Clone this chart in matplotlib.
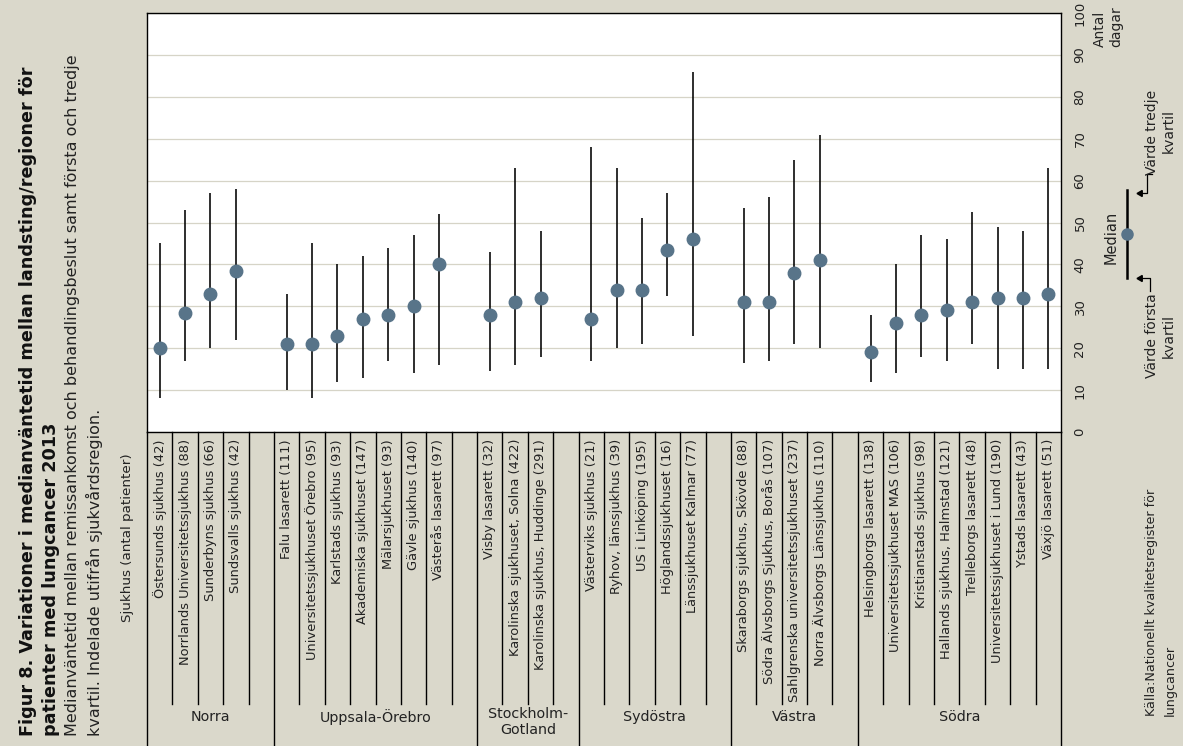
import matplotlib
matplotlib.use("Agg")
import matplotlib.pyplot as plt
import matplotlib.transforms as mtransforms
from matplotlib.lines import Line2D

plt.rcParams['font.family'] = ['DejaVu Sans']

# ---------------- data ----------------
regions = ["Norra", "Uppsala-Örebro", "Stockholm-\nGotland", "Sydöstra", "Västra", "Södra"]

norra = ["Östersunds sjukhus (42)", "Norrlands Universitetssjukhus (88)",
         "Sunderbyns sjukhus (66)", "Sundsvalls sjukhus (42)"]
norra_med = [20, 28.5, 33, 38.5]
norra_q1 = [8, 17, 20, 22]
norra_q3 = [45, 53, 57, 58]

uppsala = ["Falu lasarett (111)", "Universitetssjukhuset Örebro (95)", "Karlstads sjukhus (93)",
           "Akademiska sjukhuset (147)", "Mälarsjukhuset (93)", "Gävle sjukhus (140)",
           "Västerås lasarett (97)"]
uppsala_med = [21, 21, 23, 27, 28, 30, 40]
uppsala_q1 = [10, 8, 12, 13, 17, 14, 16]
uppsala_q3 = [33, 45, 40, 42, 44, 47, 52]

sthlm = ["Visby lasarett (32)", "Karolinska sjukhuset, Solna (422)",
         "Karolinska sjukhus, Huddinge (291)"]
sthlm_med = [28, 31, 32]
sthlm_q1 = [14.5, 16, 18]
sthlm_q3 = [43, 63, 48]

sydost = ["Västerviks sjukhus (21)", "Ryhov, länssjukhus (39)", "US i Linköping (195)",
          "Höglandssjukhuset (16)", "Länssjukhuset Kalmar (77)"]
sydost_med = [27, 34, 34, 43.5, 46]
sydost_q1 = [17, 20, 21, 32.5, 23]
sydost_q3 = [68, 63, 51, 57, 86]

vastra = ["Skaraborgs sjukhus, Skövde (88)", "Södra Älvsborgs Sjukhus, Borås (107)",
          "Sahlgrenska universitetssjukhuset (237)", "Norra Älvsborgs Länssjukhus (110)"]
vastra_med = [31, 31, 38, 41]
vastra_q1 = [16.5, 17, 21, 20]
vastra_q3 = [53.5, 56, 65, 71]

sodra = ["Helsingborgs lasarett (138)", "Universitetssjukhuset MAS (106)",
         "Kristianstads sjukhus (98)", "Hallands sjukhus, Halmstad (121)",
         "Trelleborgs lasarett (48)", "Universitetssjukhuset i Lund (190)",
         "Ystads lasarett (43)", "Växjö lasarett (51)"]
sodra_med = [19, 26, 28, 29, 31, 32, 32, 33]
sodra_q1 = [12, 14, 18, 17, 21, 15, 15, 15]
sodra_q3 = [28, 40, 47, 46, 52.5, 49, 48, 63]

groups = [
    (norra, norra_med, norra_q1, norra_q3),
    (uppsala, uppsala_med, uppsala_q1, uppsala_q3),
    (sthlm, sthlm_med, sthlm_q1, sthlm_q3),
    (sydost, sydost_med, sydost_q1, sydost_q3),
    (vastra, vastra_med, vastra_q1, vastra_q3),
    (sodra, sodra_med, sodra_q1, sodra_q3),
]
yticks = [0, 10, 20, 30, 40, 50, 60, 70, 80, 90, 100]

# ---------------- style ----------------
W, H = 1183, 746
BG = "#DAD8CB"
DOT = "#587489"
GRID = "#D6D4C7"
TXT = "#222222"

fig = plt.figure(figsize=(W / 100, H / 100), dpi=100, facecolor=BG)

def fx(p):
    return p / W

def fy(p):
    return 1 - p / H

L, R, T, B = 147, 1061, 13, 432
ax = fig.add_axes([fx(L), fy(B), fx(R - L), (B - T) / H])
ax.set_facecolor("white")

# layout of slots
xs, labels, meds, q1s, q3s = [], [], [], [], []
region_bounds = []
slot = 0
for gi, (names, med, q1, q3) in enumerate(groups):
    start = slot
    for n, m, a, b in zip(names, med, q1, q3):
        xs.append(slot)
        labels.append(n)
        meds.append(m)
        q1s.append(a)
        q3s.append(b)
        slot += 1
    if gi < len(groups) - 1:
        slot += 1  # gap slot
    region_bounds.append((start - 0.5, slot - 0.5))
nslots = slot

ax.vlines(xs, q1s, q3s, color="black", lw=1.15, zorder=3)
ax.plot(xs, meds, "o", color=DOT, ms=9, zorder=4, mec=DOT)

ax.set_xlim(-0.5, nslots - 0.5)
ax.set_ylim(0, 100)
ax.set_xticks([])
ax.set_yticks(yticks)
ax.yaxis.tick_right()
ax.tick_params(axis="y", length=0, pad=9, labelsize=9.5, labelcolor=TXT)
for t in ax.get_yticklabels():
    t.set_rotation(90)
    t.set_va("center")
ax.yaxis.grid(True, color=GRID, lw=0.9)
ax.set_axisbelow(True)
for s in ax.spines.values():
    s.set_color("black")
    s.set_linewidth(1.0)

# ---------------- category table below ----------------
blend = mtransforms.blended_transform_factory(ax.transData, fig.transFigure)
region_edges = set(round(b, 1) for (a, b) in region_bounds)
for k in range(nslots - 1):
    edge = k + 0.5
    bottom = 746 if round(edge, 1) in region_edges else 704
    fig.add_artist(Line2D([edge, edge], [fy(432), fy(bottom)], transform=blend,
                          color="black", lw=1.0))
for edge in (-0.5, nslots - 0.5):
    fig.add_artist(Line2D([edge, edge], [fy(432), fy(746)], transform=blend,
                          color="black", lw=1.0))

for x, lab in zip(xs, labels):
    fig.text(x, fy(439), lab, transform=blend,
             rotation=90, ha="center", va="top", fontsize=9.4, color=TXT)

for (a, b), reg in zip(region_bounds, regions):
    yc = 717 if "\n" not in reg else 722
    fig.text((a + b) / 2, fy(yc), reg, transform=blend, ha="center", va="center",
             fontsize=10.3, color=TXT, linespacing=1.15)

# ---------------- left texts ----------------
fig.text(fx(28), fy(736), "Figur 8. Variationer i medianväntetid mellan landsting/regioner för",
         rotation=90, ha="center", va="bottom", fontsize=12.7, fontweight="bold", color="#111111")
fig.text(fx(51), fy(736), "patienter med lungcancer 2013",
         rotation=90, ha="center", va="bottom", fontsize=12.7, fontweight="bold", color="#111111")
fig.text(fx(73), fy(736), "Medianväntetid mellan remissankomst och behandlingsbeslut samt första och tredje",
         rotation=90, ha="center", va="bottom", fontsize=11.5, color=TXT)
fig.text(fx(94), fy(736), "kvartil. Indelade utifrån sjukvårdsregion.",
         rotation=90, ha="center", va="bottom", fontsize=11.5, color=TXT)
fig.text(fx(127), fy(622), "Sjukhus (antal patienter)",
         rotation=90, ha="center", va="bottom", fontsize=9.7, color=TXT)

# ---------------- right texts ----------------
fig.text(fx(1100), fy(47), "Antal", rotation=90, ha="center", va="bottom", fontsize=10, color=TXT)
fig.text(fx(1116), fy(47), "dagar", rotation=90, ha="center", va="bottom", fontsize=10, color=TXT)

# legend glyph
fig.add_artist(Line2D([fx(1127), fx(1127)], [fy(190), fy(278)], color="black", lw=1.8))
fig.add_artist(Line2D([fx(1127)], [fy(234)], marker="o", color=DOT, ms=8, lw=0))
fig.text(fx(1111), fy(237), "Median", rotation=90, ha="center", va="center", fontsize=10.5, color=TXT)

# upper arrow (third quartile)
fig.add_artist(Line2D([fx(1152), fx(1147), fx(1147), fx(1142)],
                      [fy(174), fy(174), fy(193), fy(193)], color="black", lw=0.9))
fig.add_artist(Line2D([fx(1140)], [fy(193)], marker=(3, 0, 90), color="black", ms=5, lw=0))
fig.text(fx(1152), fy(175), "Värde tredje", rotation=90, ha="center", va="bottom", fontsize=10, color=TXT)
fig.text(fx(1169), fy(131), "kvartil", rotation=90, ha="center", va="center", fontsize=10, color=TXT)

# lower arrow (first quartile)
fig.add_artist(Line2D([fx(1142), fx(1150), fx(1150)],
                      [fy(278), fy(278), fy(291)], color="black", lw=0.9))
fig.add_artist(Line2D([fx(1140)], [fy(278)], marker=(3, 0, 90), color="black", ms=5, lw=0))
fig.text(fx(1152), fy(293), "Värde första", rotation=90, ha="center", va="top", fontsize=10, color=TXT)
fig.text(fx(1169), fy(336), "kvartil", rotation=90, ha="center", va="center", fontsize=10, color=TXT)

# source
fig.text(fx(1151), fy(716), "Källa:Nationellt kvalitetsregister för", rotation=90,
         ha="center", va="bottom", fontsize=9.2, color=TXT)
fig.text(fx(1170), fy(716), "lungcancer", rotation=90,
         ha="center", va="bottom", fontsize=9.2, color=TXT)

fig.savefig("out.png", dpi=100, facecolor=BG)
